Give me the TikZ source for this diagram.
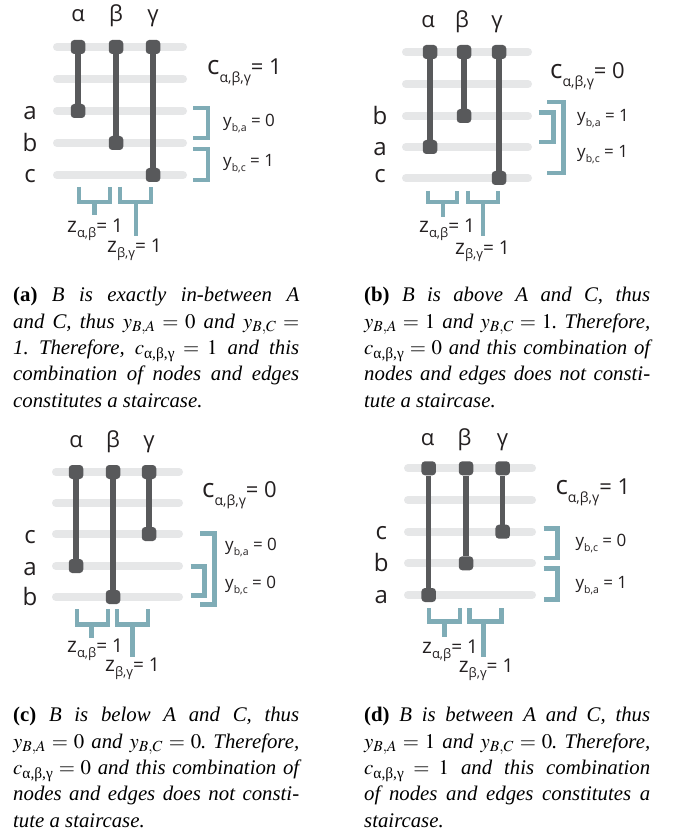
\documentclass[tikz,border=0pt]{standalone}
\usepackage{amsmath}
\usepackage{mathptmx}
\usepackage[no-math]{fontspec}
\setmainfont{Liberation Serif}
\newfontfamily\dfont{Open Sans}
\definecolor{lgray}{HTML}{E6E7E8}
\definecolor{dgray}{HTML}{58595B}
\definecolor{tealb}{HTML}{7FACB6}
\definecolor{txt}{HTML}{231F20}
\newcommand\capfont{\fontsize{20.8}{26.4}\selectfont\frenchspacing}
\newcommand\cab{c_{\text{\upshape α,β,γ}}}
\newcommand\clbl[1]{{\fontsize{26}{26}\selectfont c}\raisebox{-8pt}{\fontsize{14}{14}\selectfont α,β,γ}{\fontsize{22}{22}\selectfont= #1}}
\newcommand\ylbl[2]{{\fontsize{17}{17}\selectfont y}\raisebox{-5pt}{\fontsize{10.5}{10.5}\selectfont #1}{\fontsize{17}{17}\selectfont\ = #2}}
\newcommand\zlbl[1]{{\fontsize{21}{21}\selectfont z}\raisebox{-5pt}{\fontsize{13}{13}\selectfont #1}{\fontsize{19}{19}\selectfont= 1}}
\begin{document}
\begin{tikzpicture}[x=1pt,y=-1pt,
  gl/.style={line width=8pt,color=lgray,line cap=round},
  bar/.style={line width=5.5pt,color=dgray},
  capn/.style={rectangle,fill=dgray,minimum width=14.5pt,minimum height=14pt,rounded corners=3.5pt,inner sep=0pt},
  br/.style={line width=4.5pt,color=tealb},
  glab/.style={anchor=base,inner sep=0pt,font=\dfont\fontsize{22}{22}\selectfont,text=txt},
  rlab/.style={anchor=base,inner sep=0pt,font=\dfont\fontsize{24}{24}\selectfont,text=txt},
  lab/.style={anchor=base west,inner sep=0pt,font=\dfont,text=txt},
  capt/.style={anchor=north west,inner sep=0pt,text width=286pt,align=justify,font=\capfont}]
\useasboundingbox (0,0) rectangle (674,834);
\fill[white] (0,0) rectangle (674,834);

% ---------- panel (a)
\foreach \y in {47,79,111,143,175} \draw[gl] (57,\y) -- (183,\y);
\node[capn] (a1t) at (78,47) {}; \node[capn] (a1b) at (78,111) {};
\node[capn] (a2t) at (116,47) {}; \node[capn] (a2b) at (116,143) {};
\node[capn] (a3t) at (153,47) {}; \node[capn] (a3b) at (153,175) {};
\draw[bar] (a1t) -- (a1b); \draw[bar] (a2t) -- (a2b); \draw[bar] (a3t) -- (a3b);
\node[glab] (aga) at (78,22) {α}; \node[glab] (agb) at (116,22) {β}; \node[glab] (agc) at (153,22) {γ};
\node[rlab] (ara) at (30,120) {a}; \node[rlab] (arb) at (30,152) {b}; \node[rlab] (arc) at (30,183) {c};
\node[lab] (acl) at (207,75) {\clbl{1}};
\draw[br] (193,108) -- (208,108) -- (208,138) -- (193,138);
\draw[br] (193,149) -- (208,149) -- (208,180) -- (193,180);
\node[lab] (ay1) at (223,127) {\ylbl{b,a}{0}};
\node[lab] (ay2) at (223,167) {\ylbl{b,c}{1}};
\draw[br] (79,187) -- (79,202) -- (110,202) -- (110,187); \draw[br] (94.3,202) -- (94.3,215);
\draw[br] (120,187) -- (120,202) -- (151,202) -- (151,187); \draw[br] (136,202) -- (136,236);
\node[lab] (az1) at (67,233) {\zlbl{α,β}};
\node[lab] (az2) at (107,252) {\zlbl{β,γ}};

% ---------- panel (b)
\foreach \y in {52,84,116,147,178} \draw[gl] (406,\y) -- (528,\y);
\node[capn] (b1t) at (430,52) {}; \node[capn] (b1b) at (430,147) {};
\node[capn] (b2t) at (464,52) {}; \node[capn] (b2b) at (464,116) {};
\node[capn] (b3t) at (499,52) {}; \node[capn] (b3b) at (499,178) {};
\draw[bar] (b1t) -- (b1b); \draw[bar] (b2t) -- (b2b); \draw[bar] (b3t) -- (b3b);
\node[glab] (bga) at (428,28) {α}; \node[glab] (bgb) at (462,28) {β}; \node[glab] (bgc) at (497,28) {γ};
\node[rlab] (brb) at (380,125) {b}; \node[rlab] (bra) at (380,156) {a}; \node[rlab] (brc) at (380,183) {c};
\node[lab] (bcl) at (550,79) {\clbl{0}};
\draw[br] (538.7,112.7) -- (553.3,112.7) -- (553.3,142) -- (538.7,142);
\draw[br] (547,102) -- (563.3,102) -- (563.3,173) -- (547,173);
\node[lab] (by1) at (577,122) {\ylbl{b,a}{1}};
\node[lab] (by2) at (577,158) {\ylbl{b,c}{1}};
\draw[br] (428,191) -- (428,202) -- (457,202) -- (457,191); \draw[br] (443,202) -- (443,217);
\draw[br] (468,191) -- (468,202) -- (498,202) -- (498,191); \draw[br] (483,202) -- (483,236);
\node[lab] (bz1) at (419,233) {\zlbl{α,β}};
\node[lab] (bz2) at (455,254) {\zlbl{β,γ}};

% ---------- panel (c)
\foreach \y in {472,503,534,566,597} \draw[gl] (56,\y) -- (179,\y);
\node[capn] (c1t) at (76,472) {}; \node[capn] (c1b) at (76,566) {};
\node[capn] (c2t) at (113,472) {}; \node[capn] (c2b) at (113,597) {};
\node[capn] (c3t) at (149,472) {}; \node[capn] (c3b) at (149,534) {};
\draw[bar] (c1t) -- (c1b); \draw[bar] (c2t) -- (c2b); \draw[bar] (c3t) -- (c3b);
\node[glab] (cga) at (76,447) {α}; \node[glab] (cgb) at (113,447) {β}; \node[glab] (cgc) at (149,447) {γ};
\node[rlab] (crc) at (30,543) {c}; \node[rlab] (cra) at (30,575) {a}; \node[rlab] (crb) at (30,605) {b};
\node[lab] (ccl) at (202,497) {\clbl{0}};
\draw[br] (200,533.7) -- (214.7,533.7) -- (214.7,604.7) -- (200,604.7);
\draw[br] (190.7,566.3) -- (204.7,566.3) -- (204.7,595.3) -- (190.7,595.3);
\node[lab] (cy1) at (225,550.7) {\ylbl{b,a}{0}};
\node[lab] (cy2) at (225,588.3) {\ylbl{b,c}{0}};
\draw[br] (77,609.3) -- (77,624.7) -- (108,624.7) -- (108,609.3); \draw[br] (91.7,624.7) -- (91.7,638.3);
\draw[br] (117,609.3) -- (117,624.7) -- (148,624.7) -- (148,609.3); \draw[br] (132.7,624.7) -- (132.7,657.3);
\node[lab] (cz1) at (67,652.3) {\zlbl{α,β}};
\node[lab] (cz2) at (105,671.7) {\zlbl{β,γ}};

% ---------- panel (d)
\foreach \y in {468.3,500,531.7,563.3,595} \draw[gl] (408,\y) -- (532,\y);
\node[capn] (d1t) at (428.7,468.3) {}; \node[capn] (d1b) at (428.7,595) {};
\node[capn] (d2t) at (466,468.3) {}; \node[capn] (d2b) at (466,563.3) {};
\node[capn] (d3t) at (502.7,468.3) {}; \node[capn] (d3b) at (502.7,531.7) {};
\draw[bar] (d1t) -- (d1b); \draw[bar] (d2t) -- (d2b); \draw[bar] (d3t) -- (d3b);
\node[glab] (dga) at (427.7,445) {α}; \node[glab] (dgb) at (464.5,445) {β}; \node[glab] (dgc) at (502.5,445) {γ};
\node[rlab] (drc) at (381.3,539.3) {c}; \node[rlab] (drb) at (381.3,571.7) {b}; \node[rlab] (dra) at (381.3,603.3) {a};
\node[lab] (dcl) at (555.3,494) {\clbl{1}};
\draw[br] (543.7,528.7) -- (557.7,528.7) -- (557.7,558) -- (543.7,558);
\draw[br] (543.7,568.7) -- (557.7,568.7) -- (557.7,599.7) -- (543.7,599.7);
\node[lab] (dy1) at (575.3,546.7) {\ylbl{b,c}{0}};
\node[lab] (dy2) at (575.3,588.3) {\ylbl{b,a}{1}};
\draw[br] (429,608.3) -- (429,621.3) -- (460,621.3) -- (460,608.3); \draw[br] (444.3,621.3) -- (444.3,637.3);
\draw[br] (469.7,608.3) -- (469.7,621.3) -- (501.7,621.3) -- (501.7,608.3); \draw[br] (483.7,621.3) -- (483.7,656.7);
\node[lab] (dz1) at (422,653.3) {\zlbl{α,β}};
\node[lab] (dz2) at (458.7,672.3) {\zlbl{β,γ}};

% ---------- captions
\node[capt] (capa) at (13,287) {\textbf{(a)} \textit{B is exactly in-between A\linebreak and C, thus $y_{B,A}=0$ and $y_{B,C}=$\linebreak 1. Therefore, $\cab=1$ and this\linebreak combination of nodes and edges\linebreak constitutes a staircase.}};
\node[capt] (capb) at (364,287) {\textbf{(b)} \textit{B is above A and C, thus\linebreak $y_{B,A}=1$ and $y_{B,C}=1$. Therefore,\linebreak $\cab=0$ and this combination of\linebreak nodes and edges does not consti-\linebreak tute a staircase.}};
\node[capt] (capc) at (13,707) {\textbf{(c)} \textit{B is below A and C, thus\linebreak $y_{B,A}=0$ and $y_{B,C}=0$. Therefore,\linebreak $\cab=0$ and this combination of\linebreak nodes and edges does not consti-\linebreak tute a staircase.}};
\node[capt] (capd) at (364,707) {\textbf{(d)} \textit{B is between A and C, thus\linebreak $y_{B,A}=1$ and $y_{B,C}=0$. Therefore,\linebreak $\cab=1$ and this combination\linebreak of nodes and edges constitutes a\linebreak staircase.}};
\end{tikzpicture}
\end{document}
